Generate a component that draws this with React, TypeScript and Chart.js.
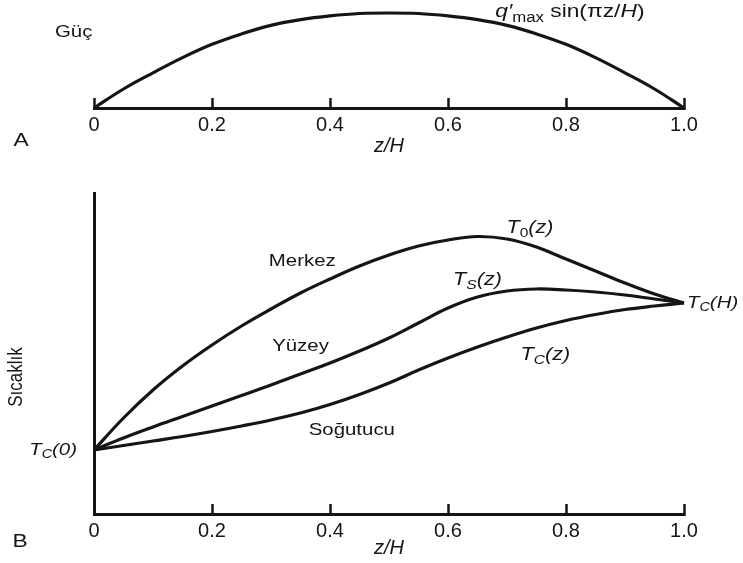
import React, { useEffect, useRef } from "react";
import { Chart, registerables } from "chart.js";

Chart.register(...registerables);

// ---------- data ----------
const zGrid = [0, 0.05, 0.1, 0.15, 0.2, 0.25, 0.3, 0.35, 0.4, 0.45, 0.5, 0.55, 0.6, 0.65, 0.7, 0.75, 0.8, 0.85, 0.9, 0.95, 1.0];
// Panel A: power shape q'max sin(pi z/H), normalised
const power = [0, 0.2, 0.37, 0.53, 0.67, 0.78, 0.87, 0.93, 0.97, 0.995, 1.0, 0.995, 0.97, 0.93, 0.87, 0.78, 0.67, 0.53, 0.37, 0.2, 0];
// Panel B: temperatures (arbitrary units, T_C(0) = 0)
const centerT = [0, 32, 60, 84, 105, 124, 141, 157, 171, 184, 195, 204, 210, 213.5, 211, 203, 191, 179, 167, 156, 147];
const surfaceT = [0, 12, 23, 33.5, 44, 54.5, 65, 76, 87, 99, 112, 127, 142, 153, 159, 161, 160, 158, 155, 151, 147];
const coolantT = [0, 4.5, 9, 13.5, 18.5, 24, 30, 37, 45.5, 55.5, 67, 80, 92, 103, 113, 122, 129.5, 135.5, 140.5, 144, 147];
const tickValues = [0, 0.2, 0.4, 0.6, 0.8, 1.0];
const tickLabels = ["0", "0.2", "0.4", "0.6", "0.8", "1.0"];

const FONT = '"Liberation Sans", Arial, Helvetica, sans-serif';
const INK = "#151515";

type Seg = { t: string; i?: boolean; sub?: boolean };

function drawRich(
  ctx: CanvasRenderingContext2D,
  segs: Seg[],
  x: number,
  y: number,
  align: "left" | "center" | "right",
  size = 18,
  sx = 1.2
) {
  ctx.save();
  ctx.textBaseline = "middle";
  ctx.textAlign = "left";
  ctx.fillStyle = INK;
  const fontOf = (s: Seg) => `${s.i ? "italic " : ""}${s.sub ? Math.round(size * 0.72) : size}px ${FONT}`;
  let w = 0;
  for (const s of segs) {
    ctx.font = fontOf(s);
    w += ctx.measureText(s.t).width;
  }
  w *= sx;
  const startX = align === "left" ? x : align === "center" ? x - w / 2 : x - w;
  ctx.translate(startX, y);
  ctx.scale(sx, 1);
  let cx = 0;
  for (const s of segs) {
    ctx.font = fontOf(s);
    ctx.fillText(s.t, cx, s.sub ? size * 0.3 : 0);
    cx += ctx.measureText(s.t).width;
  }
  ctx.restore();
}

const xAxis = (titlePadBottom: number) => ({
  type: "linear" as const,
  position: "bottom" as const,
  min: 0,
  max: 1,
  afterBuildTicks: (s: any) => {
    s.ticks = tickValues.map((v) => ({ value: v }));
  },
  ticks: {
    autoSkip: false,
    maxRotation: 0,
    color: INK,
    padding: 15,
    font: { family: FONT, size: 20 },
    callback: (_v: any, i: number) => tickLabels[i],
  },
  grid: {
    drawOnChartArea: false,
    drawTicks: true,
    tickLength: -10,
    tickWidth: 2.5,
    tickColor: INK,
  },
  border: { display: true, color: INK, width: 3 },
  title: {
    display: true,
    text: "z/H",
    color: INK,
    font: { family: FONT, size: 20, style: "italic" as const },
    padding: { top: 0, bottom: titlePadBottom },
  },
});

export default function App() {
  const refA = useRef<HTMLCanvasElement>(null);
  const refB = useRef<HTMLCanvasElement>(null);

  useEffect(() => {
    const labelsA = {
      id: "labelsA",
      afterDraw(chart: any) {
        const { ctx, chartArea, scales } = chart;
        const xs = scales.x;
        const ys = scales.y;
        drawRich(ctx, [{ t: "Güç" }], chartArea.left - 39, ys.getPixelForValue(0.8), "left", 17);
        drawRich(
          ctx,
          [{ t: "q′", i: true }, { t: "max", sub: true }, { t: " sin(πz/" }, { t: "H", i: true }, { t: ")" }],
          xs.getPixelForValue(0.68),
          ys.getPixelForValue(1.01),
          "left",
          19
        );
        drawRich(ctx, [{ t: "A" }], chartArea.left - 73, chartArea.bottom + 33, "center", 19);
      },
    };

    const labelsB = {
      id: "labelsB",
      afterDraw(chart: any) {
        const { ctx, chartArea, scales } = chart;
        const xs = scales.x;
        const ys = scales.y;
        const P = (z: number, v: number) => [xs.getPixelForValue(z), ys.getPixelForValue(v)] as const;
        let p = P(0.353, 189);
        drawRich(ctx, [{ t: "Merkez" }], p[0], p[1], "center", 17);
        p = P(0.35, 104);
        drawRich(ctx, [{ t: "Yüzey" }], p[0], p[1], "center", 17);
        p = P(0.437, 20);
        drawRich(ctx, [{ t: "Soğutucu" }], p[0], p[1], "center", 17);
        p = P(0.739, 222);
        drawRich(ctx, [{ t: "T", i: true }, { t: "0", sub: true }, { t: "(z)", i: true }], p[0], p[1], "center", 18);
        p = P(0.65, 170);
        drawRich(ctx, [{ t: "T", i: true }, { t: "S", sub: true, i: true }, { t: "(z)", i: true }], p[0], p[1], "center", 18);
        p = P(0.765, 95);
        drawRich(ctx, [{ t: "T", i: true }, { t: "C", sub: true, i: true }, { t: "(z)", i: true }], p[0], p[1], "center", 18);
        p = P(1.0, 147);
        drawRich(ctx, [{ t: "T", i: true }, { t: "C", sub: true, i: true }, { t: "(H)", i: true }], p[0] + 3, p[1], "left", 17);
        p = P(0, 0);
        drawRich(ctx, [{ t: "T", i: true }, { t: "C", sub: true, i: true }, { t: "(0)", i: true }], p[0] - 17, p[1], "right", 17);
        drawRich(ctx, [{ t: "B" }], chartArea.left - 74, chartArea.bottom + 28, "center", 19);
        // y title
        ctx.save();
        ctx.translate(chartArea.left - 77, ys.getPixelForValue(73));
        ctx.rotate(-Math.PI / 2);
        ctx.scale(1, 1.15);
        ctx.fillStyle = INK;
        ctx.font = `17px ${FONT}`;
        ctx.textAlign = "center";
        ctx.textBaseline = "middle";
        ctx.fillText("Sıcaklık", 0, 0);
        ctx.restore();
      },
    };

    const lineStyle = {
      borderColor: INK,
      borderWidth: 3.2,
      pointRadius: 0,
      fill: false,
      tension: 0.4,
      clip: false as const,
    };

    const chartA = new Chart(refA.current!, {
      type: "line",
      data: {
        datasets: [{ ...lineStyle, data: zGrid.map((z, i) => ({ x: z, y: power[i] })) }],
      },
      options: {
        animation: false,
        responsive: false,
        maintainAspectRatio: false,
        layout: { padding: { left: 94, right: 59, top: 13, bottom: 0 } },
        plugins: { legend: { display: false }, tooltip: { enabled: false } },
        scales: {
          x: { ...xAxis(7), afterFit: (s: any) => { s.height = 57; } } as any,
          y: { display: false, min: 0, max: 1 },
        },
      },
      plugins: [labelsA],
    });

    const chartB = new Chart(refB.current!, {
      type: "line",
      data: {
        datasets: [
          { ...lineStyle, label: "Merkez", data: zGrid.map((z, i) => ({ x: z, y: centerT[i] })) },
          { ...lineStyle, label: "Yüzey", data: zGrid.map((z, i) => ({ x: z, y: surfaceT[i] })) },
          { ...lineStyle, label: "Soğutucu", data: zGrid.map((z, i) => ({ x: z, y: coolantT[i] })) },
        ],
      },
      options: {
        animation: false,
        responsive: false,
        maintainAspectRatio: false,
        layout: { padding: { left: 94, right: 59, top: 28, bottom: 0 } },
        plugins: { legend: { display: false }, tooltip: { enabled: false } },
        scales: {
          x: { ...xAxis(3), afterFit: (s: any) => { s.height = 49; } } as any,
          y: {
            type: "linear",
            min: -64,
            max: 257,
            ticks: { display: false },
            grid: { drawOnChartArea: false, drawTicks: false },
            border: { display: true, color: INK, width: 3 },
            afterFit: (s: any) => { s.width = 0; },
          } as any,
        },
      },
      plugins: [labelsB],
    });

    return () => {
      chartA.destroy();
      chartB.destroy();
    };
  }, []);

  return (
    <div style={{ position: "fixed", left: 0, top: 0, width: 743, height: 563, background: "#fff" }}>
      <canvas ref={refA} width={743} height={165} style={{ position: "absolute", left: 0, top: 0 }} />
      <canvas ref={refB} width={743} height={398} style={{ position: "absolute", left: 0, top: 165 }} />
    </div>
  );
}
